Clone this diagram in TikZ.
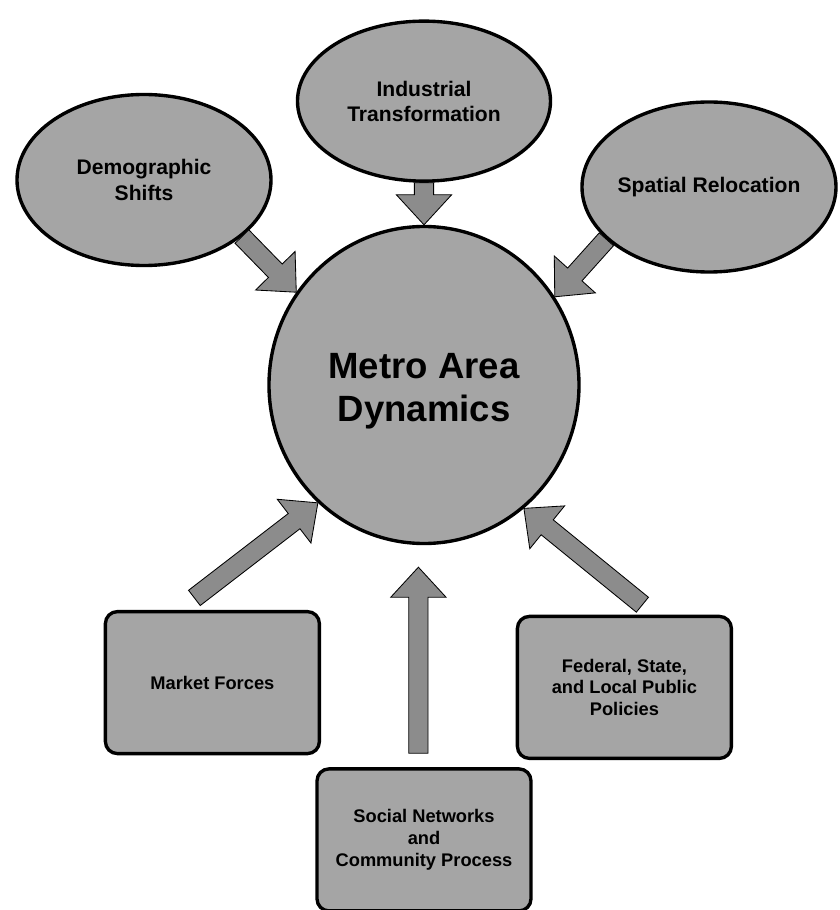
\documentclass[tikz,border=0pt]{standalone}
\usepackage{fontspec}
\setmainfont{Liberation Sans}
\usetikzlibrary{shapes.geometric, positioning, calc}
\definecolor{nodegray}{RGB}{165, 165, 165}
\definecolor{arrowgray}{RGB}{140, 140, 140}

\tikzset{
    oval/.style={draw, ellipse, line width=2.4pt, fill=nodegray, inner sep=0pt},
    ovaltext/.style={align=center, font=\fontsize{15}{18}\selectfont\bfseries},
    force/.style={draw, rectangle, rounded corners=0.3cm, line width=2.4pt, fill=nodegray,
        minimum width=5.35cm, minimum height=3.55cm, align=center,
        font=\fontsize{13}{15.6}\selectfont\bfseries},
    flow/.style={draw=black, line width=0.6pt, fill=arrowgray, line join=miter}
}

% block arrow from #1 to #2
\newcommand{\flowarrow}[2]{%
    \coordinate (fa-a) at (#1);
    \coordinate (fa-b) at (#2);
    \coordinate (fa-c) at ($(fa-b)!0.75cm!(fa-a)$);
    \draw[flow] ($(fa-a)!0.24cm!90:(fa-b)$) -- ($(fa-c)!0.24cm!90:(fa-b)$)
        -- ($(fa-c)!0.69cm!90:(fa-b)$) -- (fa-b) -- ($(fa-c)!0.69cm!-90:(fa-b)$)
        -- ($(fa-c)!0.24cm!-90:(fa-b)$) -- ($(fa-a)!0.24cm!-90:(fa-b)$) -- cycle;
}

\begin{document}
\begin{tikzpicture}

    \useasboundingbox (-10.6, 9.625) rectangle (10.375, -13.125);

    % Centre
    \node[oval, minimum width=7.75cm, minimum height=7.925cm] (metro) at (0,0) {};
    \node at (metro) [yshift=-0.15cm, align=center, font=\fontsize{26}{30.5}\selectfont\bfseries] (metro-txt) {Metro Area\\Dynamics};

    % Top ovals
    \node[oval, minimum width=6.325cm, minimum height=4cm, above=1.05cm of metro] (ind) {};
    \node at (ind) [ovaltext] (ind-txt) {Industrial\\Transformation};

    \node[oval, minimum width=6.35cm, minimum height=4.275cm] (dem) at (-7.0, 5.125) {};
    \node at (dem) [ovaltext] (dem-txt) {Demographic\\Shifts};

    \node[oval, minimum width=6.35cm, minimum height=4.25cm] (spa) at (7.125, 4.95) {};
    \node at (spa) [ovaltext] (spa-txt) {Spatial Relocation};

    % Bottom boxes
    \node[force] (mkt) at (-5.29, -7.44) {Market Forces};
    \node[force] (fed) at (5.01, -7.56) {Federal, State,\\and Local Public\\Policies};
    \node[force, below=5.55cm of metro] (soc) {Social Networks\\and\\Community Process};

    % Arrows
    \coordinate (mkt-tail) at ($(mkt.north)+(-0.45,0.3)$);
    \coordinate (fed-tail) at ($(fed.north)+(0.45,0.25)$);
    \coordinate (soc-tail) at ($(soc.north)+(-0.14,0.35)$);
    \coordinate (soc-tip) at ($(metro.south)+(-0.14,-0.55)$);

    \flowarrow{ind.south}{metro.north}
    \flowarrow{dem.-30}{metro.144}
    \flowarrow{spa.207}{metro.34}
    \flowarrow{mkt-tail}{metro.228}
    \flowarrow{fed-tail}{metro.-51}
    \flowarrow{soc-tail}{soc-tip}

\end{tikzpicture}
\end{document}
